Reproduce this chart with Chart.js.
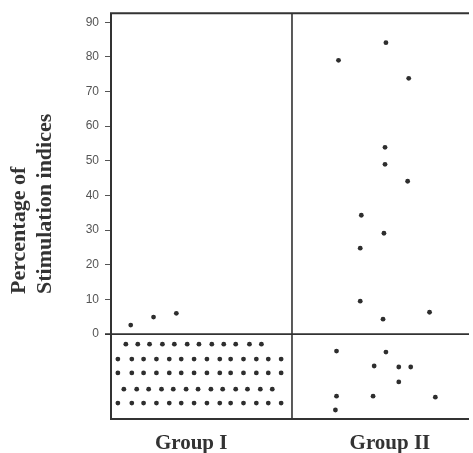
<!DOCTYPE html>
<html>
<head>
<meta charset="utf-8">
<script src="https://cdn.jsdelivr.net/npm/chart.js@4"></script>
<style>
    body { margin: 0; background: #fff; }
    canvas { display: block; }
</style>
</head>
<body>
<canvas id="chart" width="473" height="453"></canvas>
<script>
// tick labels
const yTicks = [0, 10, 20, 30, 40, 50, 60, 70, 80, 90];
const groupLabels = ['Group I', 'Group II'];
const groupLabelPos = [0.943, 2.041];
const titleLines = ['Percentage of', 'Stimulation indices'];

// Group I, stimulation index values above zero
const groupIX = [0.609, 0.735, 0.861];
const groupIY = [2.6, 4.9, 6.0];

// Group I, dots plotted below the zero line (one list of x per row)
const groupIRowY = [-2.9, -7.2, -11.2, -15.9, -19.9];
const groupIRowX = [
    [0.582, 0.648, 0.713, 0.784, 0.850, 0.921, 0.986, 1.057, 1.123, 1.189, 1.265, 1.331],
    [0.538, 0.615, 0.680, 0.751, 0.822, 0.888, 0.959, 1.030, 1.101, 1.161, 1.232, 1.303, 1.369, 1.440],
    [0.538, 0.615, 0.680, 0.751, 0.822, 0.888, 0.959, 1.030, 1.101, 1.161, 1.232, 1.303, 1.369, 1.440],
    [0.571, 0.642, 0.708, 0.779, 0.844, 0.915, 0.981, 1.052, 1.117, 1.189, 1.254, 1.325, 1.391],
    [0.538, 0.615, 0.680, 0.751, 0.822, 0.888, 0.959, 1.030, 1.101, 1.161, 1.232, 1.303, 1.369, 1.440]
];

// Group II, values above zero
const groupIIX = [1.757, 2.019, 2.145, 2.014, 2.014, 2.139, 1.883, 2.008, 1.877, 1.877, 2.260, 2.003];
const groupIIY = [79.0, 84.1, 73.8, 53.9, 49.0, 44.1, 34.3, 29.1, 24.8, 9.5, 6.3, 4.3];

// Group II, dots below the zero line
const groupIIBelowX = [1.746, 2.019, 1.954, 2.090, 2.156, 2.090, 1.746, 1.948, 2.292, 1.740];
const groupIIBelowY = [-4.9, -5.2, -9.2, -9.5, -9.5, -13.8, -17.9, -17.9, -18.2, -21.9];

const dotColor = '#2e2e2e';
const lineColor = '#333';

function toPoints(xs, ys) {
    return xs.map((x, i) => ({ x: x, y: ys[i] }));
}

let groupIBelow = [];
for (let r = 0; r < groupIRowY.length; r++) {
    groupIRowX[r].forEach(x => groupIBelow.push({ x: x, y: groupIRowY[r] }));
}

function dotSet(label, data) {
    return {
        label: label,
        data: data,
        pointRadius: 2.4,
        pointBackgroundColor: dotColor,
        pointBorderWidth: 0
    };
}

// frame, divider between groups and zero line
const framePlugin = {
    id: 'frame',
    beforeDatasetsDraw(chart) {
        const ctx = chart.ctx;
        const a = chart.chartArea;
        const x = chart.scales.x;
        const y = chart.scales.y;
        ctx.save();
        ctx.strokeStyle = lineColor;
        ctx.lineWidth = 2;
        ctx.beginPath();
        ctx.moveTo(a.right, a.top);
        ctx.lineTo(a.left, a.top);
        ctx.lineTo(a.left, a.bottom);
        ctx.lineTo(a.right, a.bottom);
        ctx.stroke();
        ctx.lineWidth = 1.6;
        ctx.beginPath();
        let xd = x.getPixelForValue(1.5);
        ctx.moveTo(xd, a.top);
        ctx.lineTo(xd, a.bottom);
        let y0 = y.getPixelForValue(0);
        ctx.moveTo(a.left - 6, y0);
        ctx.lineTo(a.right, y0);
        ctx.stroke();
        ctx.restore();
    }
};

// two-line rotated y title, starting at the same point
const yTitlePlugin = {
    id: 'yTitle',
    afterDraw(chart) {
        const ctx = chart.ctx;
        ctx.save();
        ctx.fillStyle = '#333';
        ctx.font = 'bold 22px "Liberation Serif", "Times New Roman", serif';
        ctx.textAlign = 'left';
        ctx.textBaseline = 'middle';
        const xs = [19, 45];
        titleLines.forEach((t, i) => {
            ctx.save();
            ctx.translate(xs[i], 294);
            ctx.rotate(-Math.PI / 2);
            ctx.fillText(t, 0, 0);
            ctx.restore();
        });
        ctx.restore();
    }
};

new Chart(document.getElementById('chart'), {
    type: 'scatter',
    data: {
        datasets: [
            dotSet('Group I', toPoints(groupIX, groupIY)),
            dotSet('Group I below', groupIBelow),
            dotSet('Group II', toPoints(groupIIX, groupIIY)),
            dotSet('Group II below', toPoints(groupIIBelowX, groupIIBelowY))
        ]
    },
    options: {
        responsive: false,
        animation: false,
        layout: { padding: { top: 13, left: 0, right: -4, bottom: 0 } },
        plugins: {
            legend: { display: false },
            tooltip: { enabled: false }
        },
        scales: {
            x: {
                type: 'linear',
                min: 0.5,
                max: 2.478,
                grid: { display: false },
                border: { display: false },
                afterBuildTicks: s => { s.ticks = groupLabelPos.map(v => ({ value: v })); },
                afterFit: s => { s.height = 34; s.paddingLeft = 0; s.paddingRight = 0; },
                ticks: {
                    autoSkip: false,
                    maxRotation: 0,
                    padding: 4,
                    color: '#333',
                    font: { family: '"Liberation Serif", "Times New Roman", serif', size: 21, weight: 'bold' },
                    callback: (v, i) => groupLabels[i]
                }
            },
            y: {
                min: -24.5,
                max: 92.6,
                grid: {
                    drawOnChartArea: false,
                    drawTicks: true,
                    tickLength: 6,
                    tickColor: '#555',
                    lineWidth: 1
                },
                border: { display: false },
                afterBuildTicks: s => { s.ticks = yTicks.map(v => ({ value: v })); },
                afterFit: s => { s.width = 111; },
                ticks: {
                    padding: 6,
                    color: '#555',
                    font: { family: '"Liberation Sans", Arial, sans-serif', size: 12 }
                }
            }
        }
    },
    plugins: [framePlugin, yTitlePlugin]
});
</script>
</body>
</html>
